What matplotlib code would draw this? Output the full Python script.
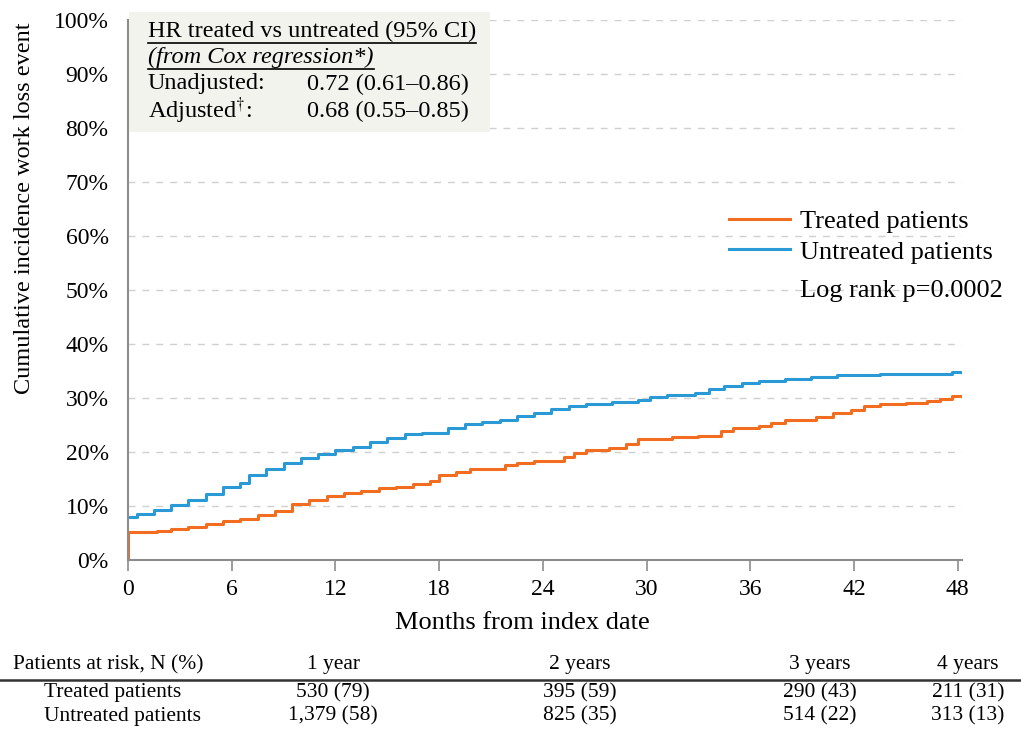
import matplotlib
matplotlib.use("Agg")
import matplotlib.pyplot as plt
from matplotlib.lines import Line2D
from matplotlib.patches import Rectangle

plt.rcParams['font.family'] = ['Liberation Serif', 'DejaVu Serif']
plt.rcParams['mathtext.fontset'] = 'stix'

# ---- data ----
treated_t = [0, 0, 1.7, 2.5, 3.5, 4.5, 5.5, 6.5, 7.5, 8.5, 9.5, 10.5, 11.5, 12.5, 13.5,
             14.5, 15.5, 16.5, 17.5, 18.0, 19.0, 19.8, 21.8, 22.5, 23.5, 25.2, 25.8,
             26.5, 27.8, 28.8, 29.5, 31.5, 33.0, 34.3, 35.0, 36.5, 37.2, 38.0, 39.8,
             40.8, 41.8, 42.6, 43.5, 45.0, 46.2, 47.0, 47.7, 48.2]
treated_v = [0, 5.2, 5.4, 5.7, 6.2, 6.6, 7.2, 7.6, 8.3, 9.0, 10.3, 11.2, 11.9, 12.4, 12.7,
             13.3, 13.5, 14.0, 14.6, 15.7, 16.3, 16.8, 17.6, 18.0, 18.3, 19.0, 19.9,
             20.4, 20.8, 21.4, 22.4, 22.8, 23.0, 23.8, 24.4, 24.8, 25.4, 25.9, 26.5,
             27.2, 27.8, 28.5, 28.8, 29.0, 29.4, 29.8, 30.3, 30.3]
untreated_t = [0, 0.5, 1.5, 2.5, 3.5, 4.5, 5.5, 6.5, 7.0, 8.0, 9.0, 10.0, 11.0, 12.0, 13.0,
               14.0, 15.0, 16.0, 17.0, 18.5, 19.5, 20.5, 21.5, 22.5, 23.5, 24.5, 25.5,
               26.5, 28.0, 29.5, 30.2, 31.2, 32.8, 33.6, 34.5, 35.5, 36.5, 38.0, 39.5,
               41.0, 43.5, 47.7, 48.2]
untreated_v = [8.0, 8.5, 9.2, 10.2, 11.2, 12.3, 13.5, 14.3, 15.8, 16.8, 18.0, 18.8, 19.7,
               20.4, 21.0, 21.8, 22.6, 23.3, 23.6, 24.5, 25.1, 25.6, 25.9, 26.7, 27.3,
               28.0, 28.6, 28.9, 29.2, 29.6, 30.1, 30.5, 30.9, 31.6, 32.2, 32.8, 33.1,
               33.5, 33.9, 34.2, 34.5, 34.9, 34.9]

x_ticks = [0, 6, 12, 18, 24, 30, 36, 42, 48]
y_ticks = list(range(0, 101, 10))

risk_header = ["1 year", "2 years", "3 years", "4 years"]
risk_treated = ["530 (79)", "395 (59)", "290 (43)", "211 (31)"]
risk_untreated = ["1,379 (58)", "825 (35)", "514 (22)", "313 (13)"]

series_names = ["Treated patients", "Untreated patients"]
c_treated = '#f26d1f'
c_untreated = '#2a9ad6'

# ---- figure ----
W, H = 1021, 735
def fx(px):
    return px / W
def fy(py):
    return 1 - py / H

fig = plt.figure(figsize=(W / 100, H / 100), dpi=100)
ax = fig.add_axes([fx(128), fy(560), (962 - 128) / W, (560 - 20) / H])

ax.step(treated_t, treated_v, where='post', color=c_treated, lw=2.2, label=series_names[0])
ax.step(untreated_t, untreated_v, where='post', color=c_untreated, lw=2.2, label=series_names[1])

ax.set_xlim(0, 48.25)
ax.set_ylim(0, 100)
ax.set_xticks(x_ticks)
ax.set_yticks(y_ticks)
ax.set_yticklabels([f"{v}%" for v in y_ticks])
ax.tick_params(axis='y', length=0, pad=14, labelsize=17)
ax.tick_params(axis='x', length=8, width=1.2, color='#8c8c8c', labelsize=17, pad=6)
for s in ['top', 'right']:
    ax.spines[s].set_visible(False)
for s in ['left', 'bottom']:
    ax.spines[s].set_color('#8c8c8c')
    ax.spines[s].set_linewidth(1.5)
ax.yaxis.grid(True, linestyle=(0, (5, 5)), color='#d0d0d0', lw=1)
ax.set_axisbelow(True)

fig.text(fx(522), fy(623), "Months from index date", fontsize=19, ha='center', va='center')
fig.text(fx(25), fy(208), "Cumulative incidence work loss event", fontsize=17.5,
         rotation=90, ha='center', va='center')

# legend
ax.legend(loc='upper left', bbox_to_anchor=(fx(729), fy(210)), bbox_transform=fig.transFigure,
          frameon=False, fontsize=19, handlelength=2.3, handletextpad=0.4, labelspacing=0.25,
          borderaxespad=0, borderpad=0)
fig.text(fx(800), fy(291), "Log rank p=0.0002", fontsize=19, va='center', ha='left')

# HR box
fig.patches.append(Rectangle((fx(129), fy(132)), (490 - 129) / W, (132 - 12) / H,
                             transform=fig.transFigure, facecolor='#f3f3ee', edgecolor='none',
                             zorder=3))
fs_box = 17.5
t1 = fig.text(fx(148), fy(31), "HR treated vs untreated (95% CI)", fontsize=fs_box,
              va='center', ha='left', zorder=4)
t2 = fig.text(fx(148), fy(57), "(from Cox regression*)", fontsize=fs_box, style='italic',
              va='center', ha='left', zorder=4)
fig.text(fx(148), fy(84), "Unadjusted:", fontsize=fs_box, va='center', ha='left', zorder=4)
fig.text(fx(307), fy(84), "0.72 (0.61\u20130.86)", fontsize=fs_box, va='center', ha='left', zorder=4)
fig.text(fx(148), fy(111), r"Adjusted$^{\dagger}$:", fontsize=fs_box, va='center', ha='left', zorder=4)
fig.text(fx(307), fy(111), "0.68 (0.55\u20130.85)", fontsize=fs_box, va='center', ha='left', zorder=4)

fig.canvas.draw()
r = fig.canvas.get_renderer()
for t, yline in [(t1, 43), (t2, 69)]:
    bb = t.get_window_extent(r)
    fig.add_artist(Line2D([bb.x0 / W, bb.x1 / W], [fy(yline), fy(yline)],
                          transform=fig.transFigure, color='black', lw=1.2, zorder=5))

# at-risk table
fs_tab = 15.5
cols_x = [333, 580, 820, 968]
fig.text(fx(13), fy(665), "Patients at risk, N (%)", fontsize=fs_tab, va='center', ha='left')
for x, h in zip(cols_x, risk_header):
    fig.text(fx(x), fy(665), h, fontsize=fs_tab, va='center', ha='center')
fig.add_artist(Line2D([0, 1], [fy(680), fy(680)], transform=fig.transFigure,
                      color='#333333', lw=1.8))
fig.text(fx(44), fy(693), series_names[0], fontsize=fs_tab, va='center', ha='left')
fig.text(fx(44), fy(716), series_names[1], fontsize=fs_tab, va='center', ha='left')
for x, a, b in zip(cols_x, risk_treated, risk_untreated):
    fig.text(fx(x), fy(693), a, fontsize=fs_tab, va='center', ha='center')
    fig.text(fx(x), fy(716), b, fontsize=fs_tab, va='center', ha='center')

fig.savefig("out.png", dpi=100)
